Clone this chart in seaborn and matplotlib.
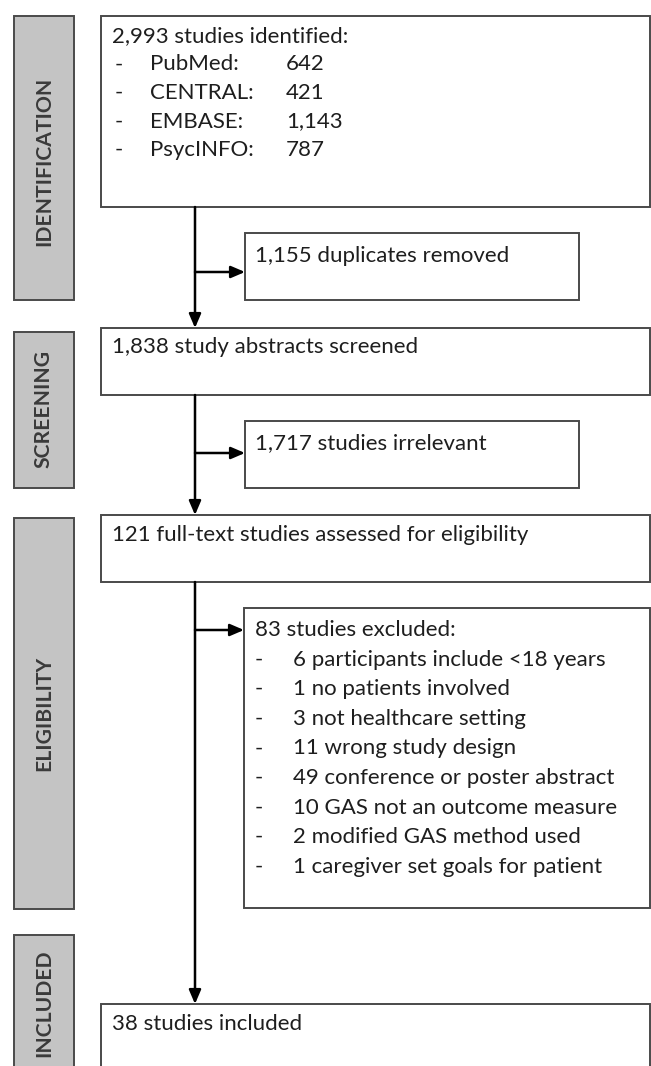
import matplotlib
matplotlib.use("Agg")
import matplotlib.pyplot as plt
import seaborn as sns
from matplotlib.patches import Rectangle

# PRISMA flow counts
sources = ["PubMed:", "CENTRAL:", "EMBASE:", "PsycINFO:"]
source_counts = ["642", "421", "1,143", "787"]
identified = "2,993"
duplicates = "1,155"
screened = "1,838"
irrelevant = "1,717"
full_text = "121"
excluded = "83"
reasons = ["6 participants include <18 years",
           "1 no patients involved",
           "3 not healthcare setting",
           "11 wrong study design",
           "49 conference or poster abstract",
           "10 GAS not an outcome measure",
           "2 modified GAS method used",
           "1 caregiver set goals for patient"]
included = "38"
stages = ["IDENTIFICATION", "SCREENING", "ELIGIBILITY", "INCLUDED"]

sns.set_theme(style="white")
plt.rcParams['font.family'] = ['Lato', 'DejaVu Sans']

W, H = 651, 1066
fig = plt.figure(figsize=(W / 100, H / 100), dpi=100)
ax = fig.add_axes([0, 0, 1, 1])
ax.set_xlim(0, W)
ax.set_ylim(H, 0)
ax.axis("off")

edge = "#4a4a4a"
txt = "#1e1e1e"
fs = 16


def box(x0, y0, x1, y1, fc="white"):
    ax.add_patch(Rectangle((x0, y0), x1 - x0, y1 - y0, facecolor=fc,
                           edgecolor=edge, lw=1.4, zorder=2))


def arrow(x0, y0, x1, y1):
    ax.annotate("", xy=(x1, y1), xytext=(x0, y0), zorder=3,
                arrowprops=dict(arrowstyle="-|>,head_length=0.7,head_width=0.3",
                                color="black", lw=1.8, shrinkA=0, shrinkB=0))


def label(x, y, s):
    ax.text(x, y, s, va="center", fontsize=fs, color=txt, zorder=4)


# stage side bars
side = [(16, 300, 161), (332, 488, 409), (518, 909, 713), (935, 1080, 1003)]
for name, (y0, y1, yc) in zip(stages, side):
    box(14, y0, 74, y1, fc="#c4c4c4")
    ax.text(44, yc, name, rotation=90, ha="center", va="center",
            fontsize=15.2, fontweight="bold", color="#3a3a3a", zorder=4)

# main boxes
box(101, 16, 650, 207)
box(101, 328, 650, 395)
box(101, 515, 650, 582)
box(101, 1004, 650, 1080)
# side boxes
box(245, 233, 579, 300)
box(245, 421, 579, 488)
box(244, 608, 650, 908)

# flow arrows
vx = 195
arrow(vx, 207, vx, 328)
arrow(vx, 272, 245, 272)
arrow(vx, 395, vx, 515)
arrow(vx, 453, 245, 453)
arrow(vx, 582, vx, 1004)
arrow(vx, 630, 244, 630)

# texts
label(112, 36, f"{identified} studies identified:")
for i, (s, c) in enumerate(zip(sources, source_counts)):
    y = 64.5 + i * 28.5
    label(115, y, "-")
    label(150, y, s)
    label(286, y, c)

label(255, 256, f"{duplicates} duplicates removed")
label(112, 347, f"{screened} study abstracts screened")
label(255, 443, f"{irrelevant} studies irrelevant")
label(112, 535, f"{full_text} full-text studies assessed for eligibility")
label(255, 630, f"{excluded} studies excluded:")
for i, r in enumerate(reasons):
    y = 659.5 + i * 29.6
    label(255, y, "-")
    label(293, y, r)
label(112, 1024, f"{included} studies included")

fig.savefig("out.png", dpi=100, facecolor="white")
